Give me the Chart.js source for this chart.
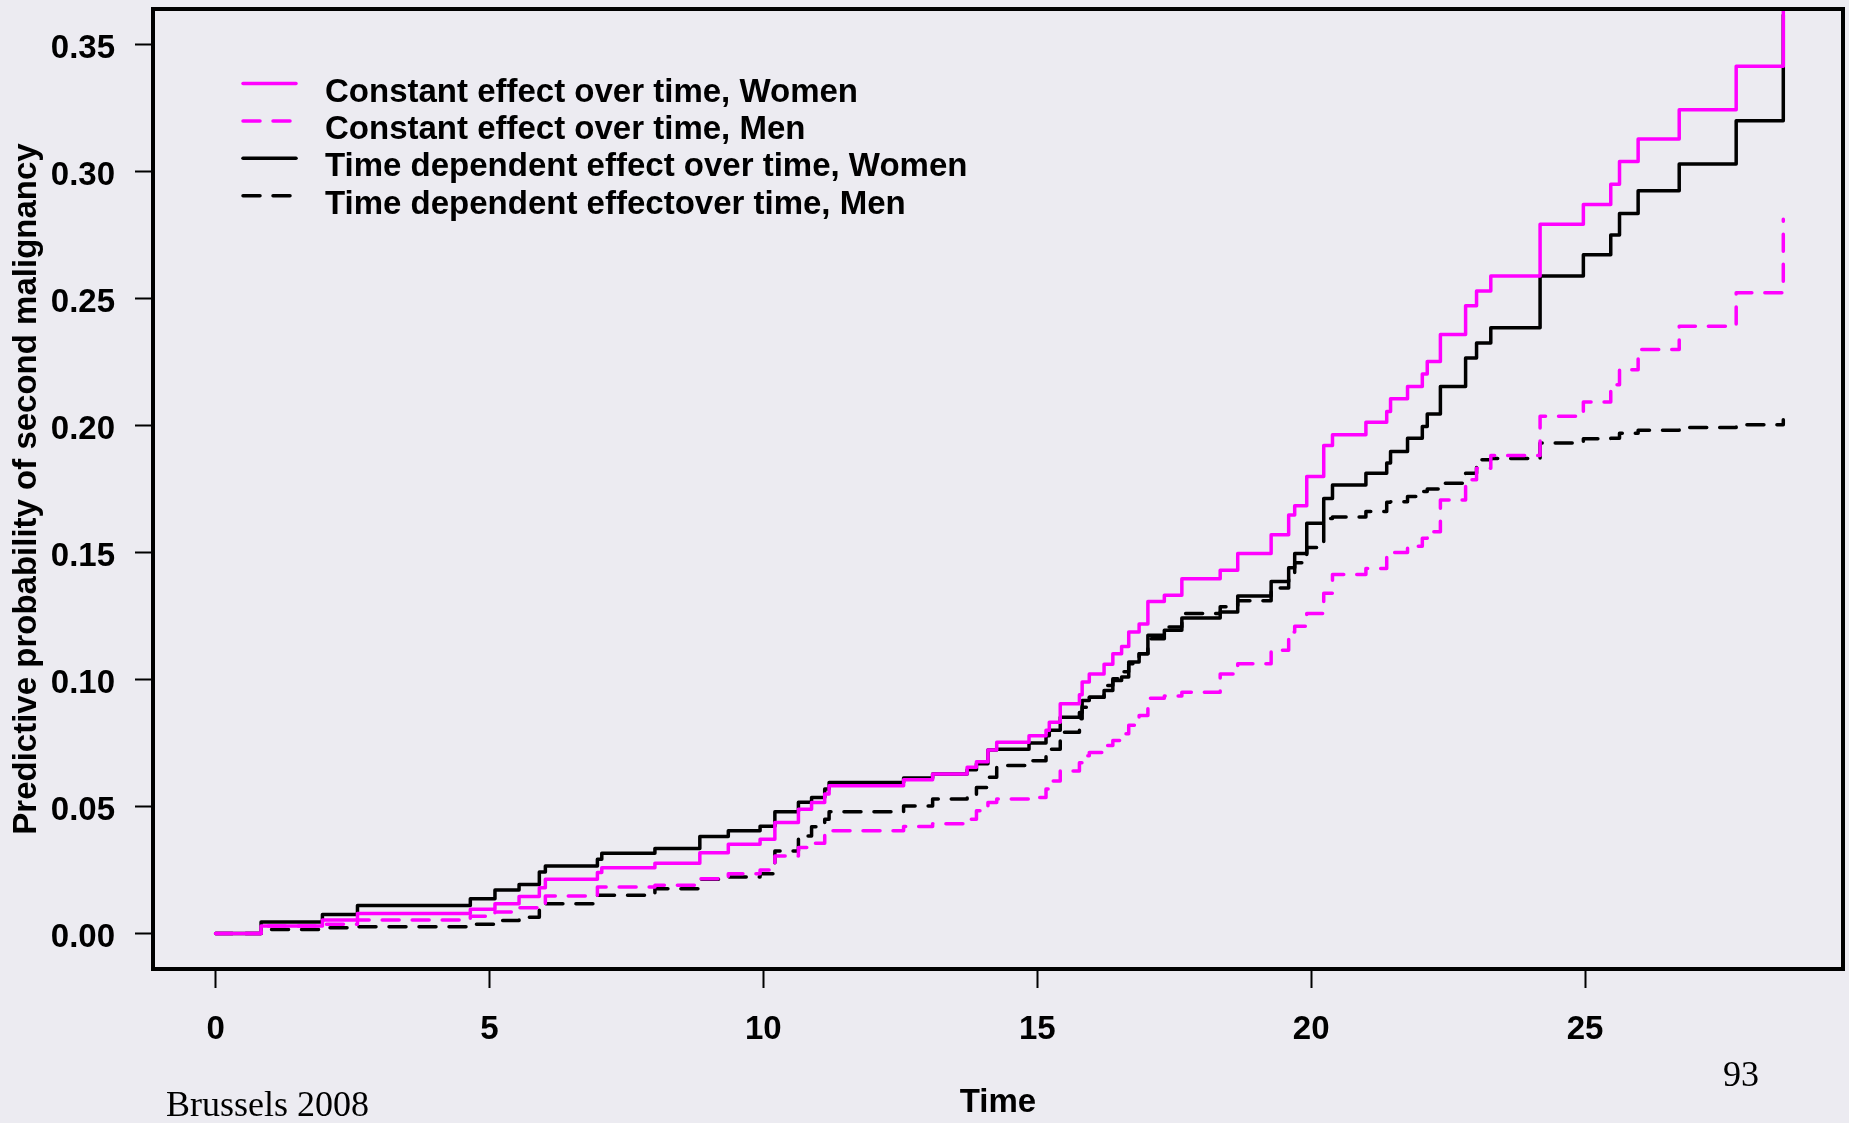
<!DOCTYPE html>
<html>
<head>
<meta charset="utf-8">
<title>Predictive probability of second malignancy</title>
<script src="https://cdn.jsdelivr.net/npm/chart.js@4.4.1/dist/chart.umd.min.js"></script>
<style>
  html, body { margin: 0; padding: 0; background: #ecebf1; }
  canvas { display: block; }
</style>
</head>
<body>
<canvas id="survChart" width="1849" height="1123"></canvas>
<script>
// jump times shared by the four step curves
const times = [
  0, 0.83, 1.95, 2.59, 4.65, 5.10, 5.54, 5.91, 6.02, 6.97,
  7.05, 8.02, 8.84, 9.36, 9.94, 10.21, 10.64, 10.88, 11.12, 11.20,
  12.56, 13.09, 13.72, 13.89, 14.10, 14.26, 14.85, 15.16, 15.22, 15.42,
  15.77, 15.82, 15.95, 16.22, 16.38, 16.54, 16.67, 16.86, 17.02, 17.32,
  17.64, 18.34, 18.66, 19.27, 19.59, 19.70, 19.92, 20.23, 20.39, 21.00,
  21.38, 21.45, 21.76, 22.03, 22.12, 22.36, 22.82, 23.02, 23.28, 24.18,
  24.97, 25.47, 25.63, 25.97, 26.72, 27.76, 28.62
];

const constWomen = [
  0, 0.0029, 0.0053, 0.0079, 0.0095, 0.0117, 0.0145, 0.0180, 0.0213, 0.0240,
  0.0259, 0.0276, 0.0318, 0.0351, 0.0371, 0.0437, 0.0489, 0.0516, 0.0549, 0.0582,
  0.0605, 0.0628, 0.0654, 0.0676, 0.0722, 0.0753, 0.0778, 0.0800, 0.0832, 0.0904,
  0.0940, 0.0990, 0.1022, 0.1060, 0.1101, 0.1130, 0.1187, 0.1218, 0.1307, 0.1332,
  0.1397, 0.1430, 0.1496, 0.1570, 0.1648, 0.1684, 0.1799, 0.1921, 0.1964, 0.2013,
  0.2055, 0.2105, 0.2154, 0.2203, 0.2252, 0.2358, 0.2472, 0.2530, 0.2589, 0.2792,
  0.2870, 0.2950, 0.3040, 0.3128, 0.3243, 0.3415, 0.3720
];

const constMen = [
  0, 0.0029, 0.0036, 0.0053, 0.0068, 0.0084, 0.0101, 0.0110, 0.0147, 0.0183,
  0.0183, 0.0190, 0.0215, 0.0235, 0.0250, 0.0305, 0.0338, 0.0355, 0.0397, 0.0404,
  0.0421, 0.0432, 0.0450, 0.0483, 0.0516, 0.0529, 0.0535, 0.0569, 0.0600, 0.0640,
  0.0672, 0.0700, 0.0712, 0.0740, 0.0760, 0.0786, 0.0820, 0.0858, 0.0926, 0.0935,
  0.0950, 0.1022, 0.1062, 0.1115, 0.1187, 0.1210, 0.1260, 0.1340, 0.1413, 0.1437,
  0.1483, 0.1500, 0.1525, 0.1556, 0.1582, 0.1707, 0.1786, 0.1832, 0.1882, 0.2036,
  0.2093, 0.2160, 0.2220, 0.2299, 0.2391, 0.2523, 0.2812
];

const timeDepWomen = [
  0, 0.0045, 0.0075, 0.0110, 0.0137, 0.0171, 0.0193, 0.0242, 0.0266, 0.0292,
  0.0316, 0.0334, 0.0382, 0.0404, 0.0422, 0.0479, 0.0517, 0.0535, 0.0569, 0.0594,
  0.0612, 0.0628, 0.0645, 0.0668, 0.0722, 0.0725, 0.0750, 0.0778, 0.0800, 0.0851,
  0.0870, 0.0917, 0.0930, 0.0957, 0.0996, 0.1010, 0.1069, 0.1101, 0.1174, 0.1194,
  0.1242, 0.1266, 0.1329, 0.1386, 0.1440, 0.1496, 0.1615, 0.1713, 0.1766, 0.1812,
  0.1852, 0.1898, 0.1950, 0.1996, 0.2045, 0.2154, 0.2266, 0.2325, 0.2385, 0.2589,
  0.2672, 0.2750, 0.2835, 0.2924, 0.3030, 0.3200, 0.3616
];

const timeDepMen = [
  0, 0.0016, 0.0022, 0.0026, 0.0036, 0.0051, 0.0064, 0.0117, 0.0117, 0.0150,
  0.0150, 0.0176, 0.0213, 0.0222, 0.0235, 0.0325, 0.0384, 0.0420, 0.0450, 0.0479,
  0.0502, 0.0529, 0.0545, 0.0575, 0.0615, 0.0661, 0.0680, 0.0703, 0.0725, 0.0792,
  0.0845, 0.0891, 0.0930, 0.0976, 0.1003, 0.1030, 0.1062, 0.1101, 0.1160, 0.1207,
  0.1260, 0.1286, 0.1310, 0.1360, 0.1420, 0.1460, 0.1520, 0.1634, 0.1640, 0.1661,
  0.1698, 0.1700, 0.1720, 0.1740, 0.1750, 0.1773, 0.1812, 0.1865, 0.1870, 0.1931,
  0.1948, 0.1950, 0.1970, 0.1981, 0.1992, 0.2003, 0.2023
];

const seriesLabels = [
  'Constant effect over time, Women',
  'Constant effect over time, Men',
  'Time dependent effect over time, Women',
  'Time dependent effectover time, Men'
];

const xTicks = [0, 5, 10, 15, 20, 25];
const yTicks = [0, 0.05, 0.10, 0.15, 0.20, 0.25, 0.30, 0.35];

const SANS = '"Liberation Sans", Arial, sans-serif';
const SERIF = '"Liberation Serif", "Times New Roman", serif';
const MAGENTA = '#ff00ff';
const DASH = [17, 13];

function toPoints(vals) {
  return times.map((t, i) => ({ x: t, y: vals[i] }));
}

// fond gris-lavande
const background = {
  id: 'background',
  beforeDraw(chart) {
    const ctx = chart.ctx;
    ctx.save();
    ctx.fillStyle = '#ecebf1';
    ctx.fillRect(0, 0, chart.width, chart.height);
    ctx.restore();
  }
};

// cadre autour de la zone de tracé
const plotBox = {
  id: 'plotBox',
  afterDatasetsDraw(chart) {
    const { ctx, chartArea: a } = chart;
    ctx.save();
    ctx.strokeStyle = '#000';
    ctx.lineWidth = 4;
    ctx.strokeRect(a.left, a.top, a.right - a.left, a.bottom - a.top);
    ctx.restore();
  }
};

// légende dessinée dans la zone de tracé
const insideLegend = {
  id: 'insideLegend',
  afterDraw(chart) {
    const ctx = chart.ctx;
    ctx.save();
    ctx.font = 'bold 33px ' + SANS;
    ctx.textBaseline = 'alphabetic';
    ctx.textAlign = 'left';
    chart.data.datasets.forEach((ds, i) => {
      const base = 101.5 + i * 37.4;
      const ly = base - 18;
      ctx.strokeStyle = ds.borderColor;
      ctx.lineWidth = ds.borderWidth;
      ctx.lineCap = 'round';
      ctx.setLineDash(ds.borderDash || []);
      ctx.beginPath();
      ctx.moveTo(243, ly);
      ctx.lineTo(296, ly);
      ctx.stroke();
      ctx.setLineDash([]);
      ctx.fillStyle = '#000';
      ctx.fillText(ds.label, 325, base);
    });
    ctx.restore();
  }
};

// textes de la diapositive
const slideNotes = {
  id: 'slideNotes',
  afterDraw(chart) {
    const ctx = chart.ctx;
    ctx.save();
    ctx.fillStyle = '#000';
    ctx.font = '36px ' + SERIF;
    ctx.textBaseline = 'alphabetic';
    ctx.textAlign = 'left';
    ctx.fillText('Brussels 2008', 166, 1116);
    ctx.textAlign = 'center';
    ctx.fillText('93', 1741, 1086);
    ctx.restore();
  }
};

const common = {
  stepped: true,
  pointRadius: 0,
  borderWidth: 3.5,
  fill: false,
  borderCapStyle: 'round',
  borderJoinStyle: 'round'
};

new Chart(document.getElementById('survChart'), {
  type: 'line',
  data: {
    datasets: [
      { ...common, label: seriesLabels[0], data: toPoints(constWomen), borderColor: MAGENTA, borderDash: [] },
      { ...common, label: seriesLabels[1], data: toPoints(constMen), borderColor: MAGENTA, borderDash: DASH },
      { ...common, label: seriesLabels[2], data: toPoints(timeDepWomen), borderColor: '#000000', borderDash: [] },
      { ...common, label: seriesLabels[3], data: toPoints(timeDepMen), borderColor: '#000000', borderDash: DASH }
    ]
  },
  options: {
    responsive: false,
    animation: false,
    devicePixelRatio: 1,
    layout: { padding: { top: 9, right: 6, left: 0, bottom: 0 } },
    plugins: { legend: { display: false }, tooltip: { enabled: false } },
    scales: {
      x: {
        type: 'linear',
        min: -1.143,
        max: 29.71,
        afterBuildTicks: s => { s.ticks = xTicks.map(v => ({ value: v })); },
        afterFit: s => { s.height = 154; s.paddingLeft = 0; s.paddingRight = 0; },
        border: { display: false },
        grid: { drawOnChartArea: false, tickLength: 19, tickWidth: 2, tickColor: '#000' },
        ticks: {
          color: '#000', padding: 22, maxRotation: 0, autoSkip: false,
          font: { family: SANS, size: 33, weight: 'bold' },
          callback: v => String(v)
        },
        title: {
          display: true, text: 'Time', color: '#000',
          font: { family: SANS, size: 33, weight: 'bold' },
          padding: { top: 0, bottom: 0 }
        }
      },
      y: {
        type: 'linear',
        min: -0.014,
        max: 0.364,
        afterBuildTicks: s => { s.ticks = yTicks.map(v => ({ value: v })); },
        afterFit: s => { s.width = 153; s.paddingTop = 0; s.paddingBottom = 0; },
        border: { display: false },
        grid: { drawOnChartArea: false, tickLength: 18, tickWidth: 2, tickColor: '#000' },
        ticks: {
          color: '#000', padding: 20, labelOffset: 4, autoSkip: false,
          font: { family: SANS, size: 33, weight: 'bold' },
          callback: v => v.toFixed(2)
        },
        title: {
          display: true, text: 'Predictive probability of second malignancy', color: '#000',
          font: { family: SANS, size: 33, weight: 'bold' },
          padding: { top: 7, bottom: 0 }
        }
      }
    }
  },
  plugins: [background, plotBox, insideLegend, slideNotes]
});
</script>
</body>
</html>
